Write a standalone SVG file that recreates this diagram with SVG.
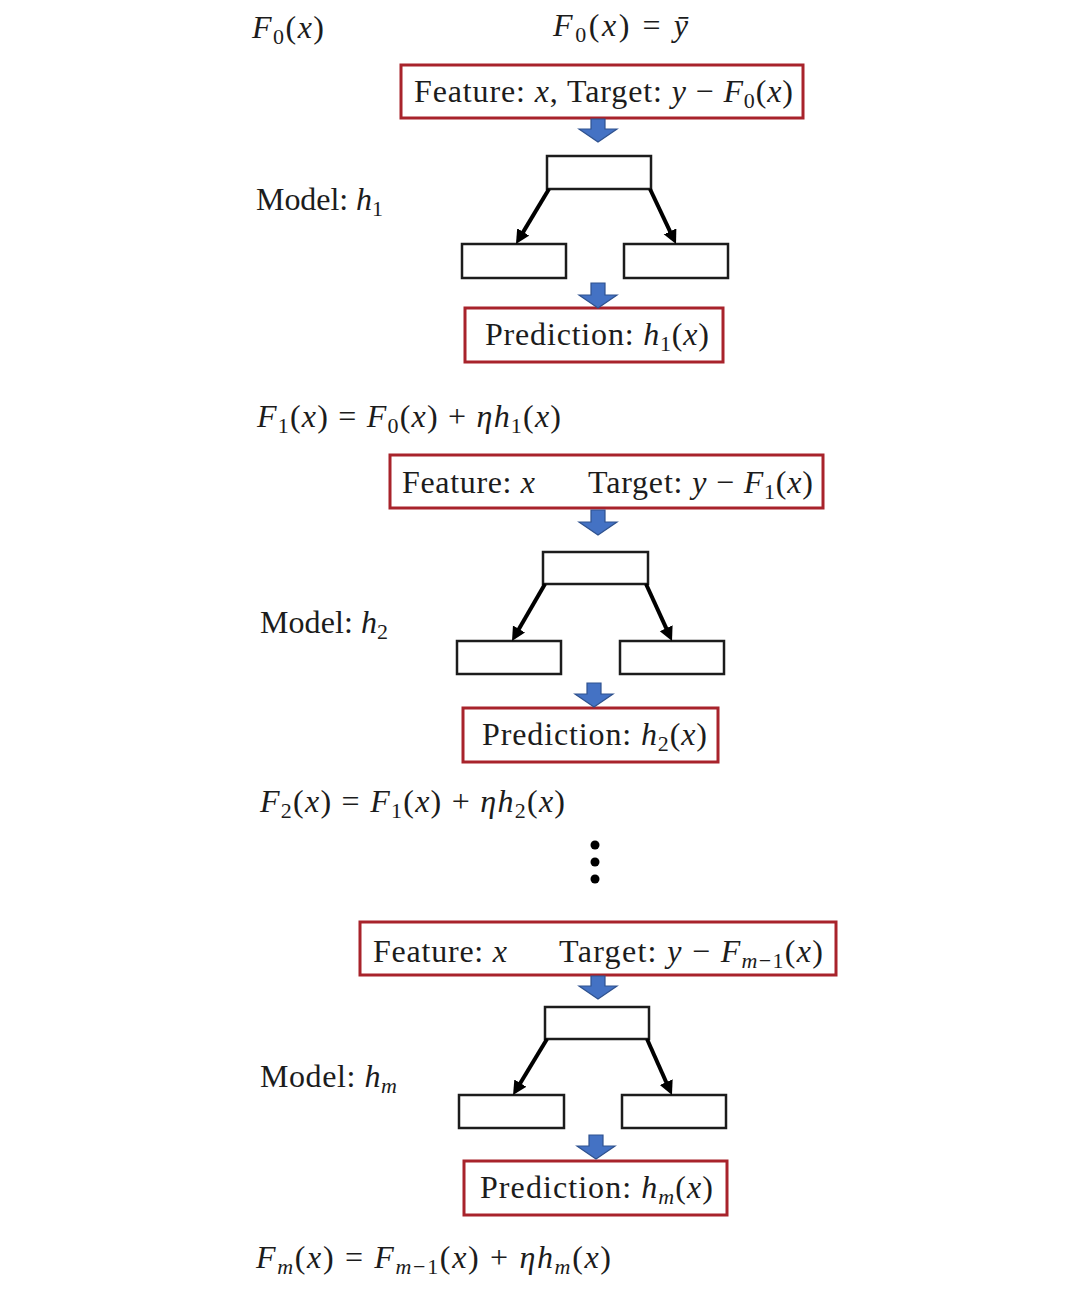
<svg xmlns="http://www.w3.org/2000/svg" width="1080" height="1290" viewBox="0 0 1080 1290">
<defs>
<style>
.t{font-family:"Liberation Serif","DejaVu Serif",serif;font-size:32px;fill:#1c1c1c}
.i{font-style:italic}
.red{fill:#ffffff;stroke:#a8232b;stroke-width:3}
.blk{fill:#ffffff;stroke:#1c1c1c;stroke-width:2.5}
.edge{stroke:#000;stroke-width:4;fill:none;marker-end:url(#ah)}
.blue{fill:#4472c4;stroke:#2f528f;stroke-width:1.2}
</style>
<marker id="ah" markerUnits="userSpaceOnUse" markerWidth="16" markerHeight="15" refX="6" refY="7" orient="auto">
<path d="M0,0 L14,7 L0,14 z" fill="#000"/>
</marker>
</defs>
<rect width="1080" height="1290" fill="#ffffff"/>

<!-- Section 1 -->
<g id="f0-label"><text class="t" x="252" y="38" textLength="72"><tspan class="i">F</tspan><tspan font-size="22" dy="6">0</tspan><tspan dy="-6">(</tspan><tspan class="i">x</tspan>)</text></g>
<g id="f0-def"><text class="t" x="553" y="36" textLength="135"><tspan class="i">F</tspan><tspan font-size="22" dy="6">0</tspan><tspan dy="-6">(</tspan><tspan class="i">x</tspan>) = <tspan class="i">ȳ</tspan></text></g>
<g id="input1"><rect class="red" x="401" y="65" width="402" height="53"/><text class="t" x="414" y="102" textLength="379">Feature: <tspan class="i">x</tspan>, Target: <tspan class="i">y</tspan> − <tspan class="i">F</tspan><tspan font-size="22" dy="6">0</tspan><tspan dy="-6">(</tspan><tspan class="i">x</tspan>)</text></g>
<g id="model1-label"><text class="t" x="256" y="210" textLength="127">Model: <tspan class="i">h</tspan><tspan font-size="22" dy="6">1</tspan></text></g>
<g id="root1"><rect class="blk" x="547" y="156" width="104" height="33"/></g>
<g id="leaf1a"><rect class="blk" x="462" y="244" width="104" height="34"/></g>
<g id="leaf1b"><rect class="blk" x="624" y="244" width="104" height="34"/></g>
<g id="pred1"><rect class="red" x="465" y="308" width="258" height="54"/><text class="t" x="485" y="345" textLength="224">Prediction: <tspan class="i">h</tspan><tspan font-size="22" dy="6">1</tspan><tspan dy="-6">(</tspan><tspan class="i">x</tspan>)</text></g>
<g id="f1-eq"><text class="t" x="257" y="427" textLength="304"><tspan class="i">F</tspan><tspan font-size="22" dy="6">1</tspan><tspan dy="-6">(</tspan><tspan class="i">x</tspan>) = <tspan class="i">F</tspan><tspan font-size="22" dy="6">0</tspan><tspan dy="-6">(</tspan><tspan class="i">x</tspan>) + <tspan class="i">ηh</tspan><tspan font-size="22" dy="6">1</tspan><tspan dy="-6">(</tspan><tspan class="i">x</tspan>)</text></g>

<!-- Section 2 -->
<g id="input2"><rect class="red" x="390" y="455" width="433" height="53"/><text class="t" x="402" y="493" textLength="133">Feature: <tspan class="i">x</tspan></text><text class="t" x="588" y="493" textLength="225">Target: <tspan class="i">y</tspan> − <tspan class="i">F</tspan><tspan font-size="22" dy="6">1</tspan><tspan dy="-6">(</tspan><tspan class="i">x</tspan>)</text></g>
<g id="model2-label"><text class="t" x="260" y="633" textLength="128">Model: <tspan class="i">h</tspan><tspan font-size="22" dy="6">2</tspan></text></g>
<g id="root2"><rect class="blk" x="543" y="552" width="105" height="32"/></g>
<g id="leaf2a"><rect class="blk" x="457" y="641" width="104" height="33"/></g>
<g id="leaf2b"><rect class="blk" x="620" y="641" width="104" height="33"/></g>
<g id="pred2"><rect class="red" x="463" y="708" width="255" height="54"/><text class="t" x="482" y="745" textLength="225">Prediction: <tspan class="i">h</tspan><tspan font-size="22" dy="6">2</tspan><tspan dy="-6">(</tspan><tspan class="i">x</tspan>)</text></g>
<g id="f2-eq"><text class="t" x="260" y="812" textLength="305"><tspan class="i">F</tspan><tspan font-size="22" dy="6">2</tspan><tspan dy="-6">(</tspan><tspan class="i">x</tspan>) = <tspan class="i">F</tspan><tspan font-size="22" dy="6">1</tspan><tspan dy="-6">(</tspan><tspan class="i">x</tspan>) + <tspan class="i">ηh</tspan><tspan font-size="22" dy="6">2</tspan><tspan dy="-6">(</tspan><tspan class="i">x</tspan>)</text></g>

<g id="ellipsis" fill="#000"><circle cx="595" cy="845" r="4.5"/><circle cx="595" cy="862" r="4.5"/><circle cx="595" cy="879" r="4.5"/></g>

<!-- Section 3 -->
<g id="input3"><rect class="red" x="360" y="922" width="476" height="53"/><text class="t" x="373" y="962" textLength="134">Feature: <tspan class="i">x</tspan></text><text class="t" x="559" y="962" textLength="264">Target: <tspan class="i">y</tspan> − <tspan class="i">F</tspan><tspan font-size="22" dy="6"><tspan class="i">m</tspan>−1</tspan><tspan dy="-6">(</tspan><tspan class="i">x</tspan>)</text></g>
<g id="modelm-label"><text class="t" x="260" y="1087" textLength="137">Model: <tspan class="i">h</tspan><tspan font-size="22" dy="6" class="i">m</tspan></text></g>
<g id="root3"><rect class="blk" x="545" y="1007" width="104" height="32"/></g>
<g id="leaf3a"><rect class="blk" x="459" y="1095" width="105" height="33"/></g>
<g id="leaf3b"><rect class="blk" x="622" y="1095" width="104" height="33"/></g>
<g id="pred3"><rect class="red" x="464" y="1161" width="263" height="54"/><text class="t" x="480" y="1198" textLength="233">Prediction: <tspan class="i">h</tspan><tspan font-size="22" dy="6" class="i">m</tspan><tspan dy="-6">(</tspan><tspan class="i">x</tspan>)</text></g>
<g id="fm-eq"><text class="t" x="256" y="1268" textLength="355"><tspan class="i">F</tspan><tspan font-size="22" dy="6" class="i">m</tspan><tspan dy="-6">(</tspan><tspan class="i">x</tspan>) = <tspan class="i">F</tspan><tspan font-size="22" dy="6"><tspan class="i">m</tspan>−1</tspan><tspan dy="-6">(</tspan><tspan class="i">x</tspan>) + <tspan class="i">ηh</tspan><tspan font-size="22" dy="6" class="i">m</tspan><tspan dy="-6">(</tspan><tspan class="i">x</tspan>)</text></g>

<g id="connectors">
<path class="blue" d="M591,119 H605 V129 H617 L598,142 L579,129 H591 Z"/>
<path class="edge" d="M549,189 L520.1,237.1"/>
<path class="edge" d="M650,189 L672.6,236.8"/>
<path class="blue" d="M591,283 H605 V295 H617 L598,308 L579,295 H591 Z"/>
<path class="blue" d="M591,510 H605 V522 H617 L598,535 L579,522 H591 Z"/>
<path class="edge" d="M545,584 L516,634.1"/>
<path class="edge" d="M646,584 L668.7,633.7"/>
<path class="blue" d="M587,683 H601 V694 H613 L594,707 L575,694 H587 Z"/>
<path class="blue" d="M591,976 H605 V986 H617 L598,999 L579,986 H591 Z"/>
<path class="edge" d="M547,1039 L517.2,1088.2"/>
<path class="edge" d="M647,1039 L668.7,1087.7"/>
<path class="blue" d="M589,1135 H603 V1146 H615 L596,1159 L577,1146 H589 Z"/>
</g>
</svg>
